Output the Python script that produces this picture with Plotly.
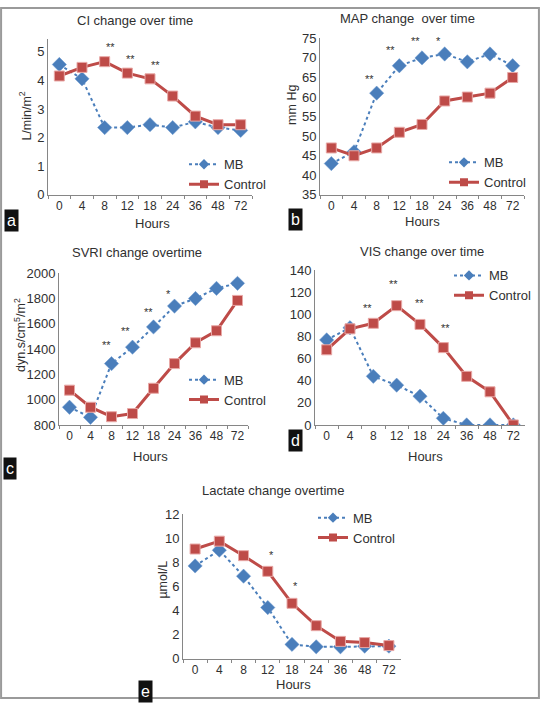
import plotly.graph_objects as go

W, H = 540, 707

hours = ["0", "4", "8", "12", "18", "24", "36", "48", "72"]

ci_mb = [4.55, 4.05, 2.35, 2.35, 2.45, 2.35, 2.55, 2.35, 2.25]
ci_ctrl = [4.15, 4.45, 4.65, 4.25, 4.05, 3.45, 2.75, 2.45, 2.45]

map_mb = [43, 46, 61, 68, 70, 71, 69, 71, 68]
map_ctrl = [47, 45, 47, 51, 53, 59, 60, 61, 65]

svri_mb = [940, 860, 1285, 1415, 1575, 1740, 1800, 1880, 1920]
svri_ctrl = [1075, 940, 865, 890, 1090, 1285, 1450, 1545, 1785]

vis_mb = [77, 88, 44, 36, 26, 6, 0, 0, 0]
vis_ctrl = [68, 87, 92, 108, 91, 70, 44, 30, 0]

lac_mb = [7.7, 9.0, 6.85, 4.25, 1.2, 1.0, 1.0, 1.05, 1.05]
lac_ctrl = [9.1, 9.75, 8.55, 7.25, 4.6, 2.75, 1.45, 1.35, 1.1]

# significance marks: (category index position, y value, text)
ci_sig = [(2.26, 5.15, "**"), (3.15, 4.75, "**"), (4.25, 4.52, "**")]
map_sig = [(1.68, 64.6, "**"), (2.6, 72.1, "**"), (3.7, 74.3, "**"), (4.74, 74.3, "*")]
svri_sig = [(1.74, 1429, "**"), (2.66, 1545, "**"), (3.74, 1692, "**"), (4.72, 1833, "*")]
vis_sig = [(1.73, 106, "**"), (2.85, 128, "**"), (3.97, 110, "**"), (5.08, 88, "**")]
lac_sig = [(3.16, 8.6, "*"), (4.16, 6.0, "*")]

BLUE = "#4A7EBB"
RED = "#BE4B48"
AXIS = "#868686"
TXT = "#303030"
FONT = "Liberation Sans, Arial, sans-serif"

# panel definitions: pixel boxes (left, right, top, bottom)
panels = [
    dict(mb=ci_mb, ctrl=ci_ctrl, sig=ci_sig, box=(48, 252, 33, 192), rng=[0, 5.43], dtick=1,
         title="CI change over time", tpos=(135, 14), ylab="L/min/m<sup>2</sup>", ypos=(25, 112),
         hpos=(152, 221), tag="a", tagpos=(11, 218), leg=(184, 171)),
    dict(mb=map_mb, ctrl=map_ctrl, sig=map_sig, box=(320, 524, 32, 192), rng=[35, 75], dtick=5,
         title="MAP change  over time", tpos=(407, 12), ylab="mm Hg", ypos=(292, 100),
         hpos=(422, 219), tag="b", tagpos=(295, 217), leg=(444, 169)),
    dict(mb=svri_mb, ctrl=svri_ctrl, sig=svri_sig, box=(59, 248, 272, 427), rng=[800, 2000], dtick=200,
         title="SVRI change overtime", tpos=(137, 251), ylab="dyn.s/cm<sup>5</sup>/m<sup>2</sup>", ypos=(20, 335),
         hpos=(150, 459), tag="c", tagpos=(10, 472), leg=(184, 391)),
    dict(mb=vis_mb, ctrl=vis_ctrl, sig=vis_sig, box=(315, 525, 269, 427), rng=[0, 140], dtick=20,
         title="VIS change over time", tpos=(422, 250), ylab=None, ypos=None,
         hpos=(425, 459), tag="d", tagpos=(295, 443), leg=(449, 284.5)),
    dict(mb=lac_mb, ctrl=lac_ctrl, sig=lac_sig, box=(183, 401, 518, 666), rng=[0, 12], dtick=2,
         title="Lactate change overtime", tpos=(273, 494), ylab="µmol/L", ypos=(163, 585),
         hpos=(293, 692), tag="e", tagpos=(145, 699), leg=(313, 532)),
]

fig = go.Figure()
annotations = []
layout = {}


def px(x):
    return x / W


def py(y):
    return 1 - y / H


for i, p in enumerate(panels):
    n = "" if i == 0 else str(i + 1)
    xa, ya = "x" + n, "y" + n
    lg = "legend" + n
    l, r, t, b = p["box"]
    layout["xaxis" + n] = dict(
        domain=[px(l), px(r)], anchor=ya, type="category", range=[-0.5, 8.5],
        showline=True, linecolor=AXIS, linewidth=1, ticks="outside", ticklen=3,
        tickcolor=AXIS, tickson="boundaries", showgrid=False, zeroline=False,
        tickangle=0, ticklabelstandoff=0,
        tickfont=dict(family=FONT, size=12, color=TXT), fixedrange=True,
    )
    layout["yaxis" + n] = dict(
        domain=[py(b), py(t)], anchor=xa, range=p["rng"], dtick=p["dtick"],
        showline=True, linecolor=AXIS, linewidth=1, ticks="", showgrid=False,
        zeroline=False, tickfont=dict(family=FONT, size=13, color=TXT), fixedrange=True,
    )
    fig.add_trace(go.Scatter(
        x=hours, y=p["mb"], name="MB", xaxis=xa, yaxis=ya, showlegend=False, mode="lines+markers",
        line=dict(color=BLUE, width=2, dash="dot"),
        marker=dict(symbol="diamond", size=11, color=BLUE, line=dict(color="#6E9AD0", width=0.5)),
    ))
    fig.add_trace(go.Scatter(
        x=hours, y=p["ctrl"], name="Control", xaxis=xa, yaxis=ya, showlegend=False, mode="lines+markers",
        line=dict(color=RED, width=3),
        marker=dict(symbol="square", size=10, color=RED, line=dict(color="#E8A8A6", width=1)),
    ))
    # legend-only entries with smaller symbols, as in the reference legend
    fig.add_trace(go.Scatter(
        x=[None], y=[None], name="MB", xaxis=xa, yaxis=ya, legend=lg, mode="lines+markers",
        line=dict(color=BLUE, width=2, dash="dot"),
        marker=dict(symbol="diamond", size=8, color=BLUE),
    ))
    fig.add_trace(go.Scatter(
        x=[None], y=[None], name="Control", xaxis=xa, yaxis=ya, legend=lg, mode="lines+markers",
        line=dict(color=RED, width=3),
        marker=dict(symbol="square", size=8, color=RED),
    ))
    layout[lg] = dict(
        x=px(p["leg"][0]), y=py(p["leg"][1]), xanchor="left", yanchor="middle",
        bgcolor="rgba(0,0,0,0)", borderwidth=0, tracegroupgap=0,
        font=dict(family=FONT, size=13, color=TXT), itemsizing="trace",
    )
    for (sx, sy, st) in p["sig"]:
        annotations.append(dict(x=sx, y=sy, xref=xa, yref=ya, text=st, showarrow=False,
                                font=dict(family=FONT, size=11, color="#333333")))
    annotations.append(dict(x=px(p["tpos"][0]), y=py(p["tpos"][1]), xref="paper", yref="paper",
                            text=p["title"], showarrow=False, xanchor="center", yanchor="middle",
                            font=dict(family=FONT, size=13, color=TXT)))
    if p["ylab"]:
        annotations.append(dict(x=px(p["ypos"][0]), y=py(p["ypos"][1]), xref="paper", yref="paper",
                                text=p["ylab"], textangle=-90, showarrow=False,
                                xanchor="center", yanchor="middle",
                                font=dict(family=FONT, size=12.5, color=TXT)))
    annotations.append(dict(x=px(p["hpos"][0]), y=py(p["hpos"][1]), xref="paper", yref="paper",
                            text="Hours", showarrow=False, xanchor="center", yanchor="middle",
                            font=dict(family=FONT, size=13, color=TXT)))
    annotations.append(dict(x=px(p["tagpos"][0]), y=py(p["tagpos"][1]), xref="paper", yref="paper",
                            text=p["tag"], showarrow=False, xanchor="center", yanchor="middle",
                            bgcolor="#111111", borderpad=2,
                            font=dict(family=FONT, size=16, color="white")))

fig.update_layout(
    width=W, height=H, margin=dict(l=0, r=0, t=0, b=0),
    paper_bgcolor="white", plot_bgcolor="white",
    annotations=annotations,
    shapes=[dict(type="rect", xref="paper", yref="paper", x0=0.002, x1=0.998, y0=0.0015, y1=0.9985,
                 line=dict(color="#9A9A9A", width=2))],
    **layout,
)

fig.write_html(
    "out.html",
    config={"displayModeBar": False},
    post_script="document.body.style.margin='0';document.body.style.overflow='hidden';",
)
